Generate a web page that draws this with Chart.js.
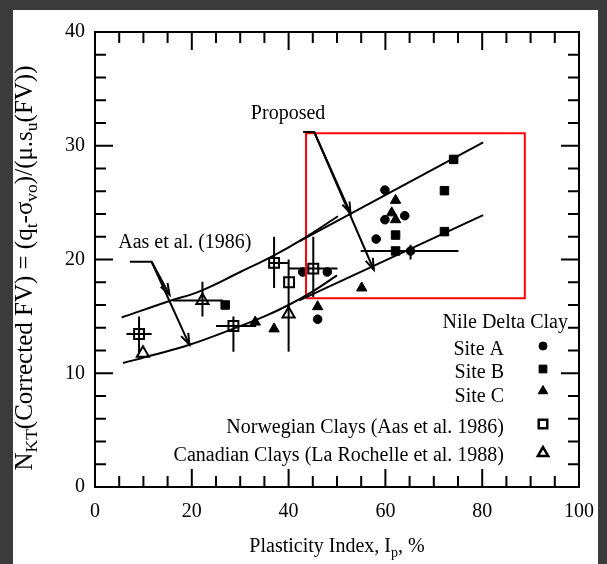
<!DOCTYPE html>
<html><head><meta charset="utf-8">
<script src="https://cdn.jsdelivr.net/npm/chart.js@4.4.1/dist/chart.umd.min.js"></script>
<style>html,body{margin:0;padding:0;background:#3b3b3b;overflow:hidden}canvas{display:block}</style>
</head><body>
<canvas id="c" width="607" height="564"></canvas>
<script>
// ---------- data ----------
const xTicks = [0, 20, 40, 60, 80, 100];
const yTicks = [0, 10, 20, 30, 40];
const siteA = [[59.9,26.1],[59.9,23.5],[64.0,23.85],[58.1,21.8],[65.2,20.75],[42.9,18.9],[48.0,18.9],[46.0,14.75]];
const siteB = [[74.1,28.8],[72.2,26.05],[72.2,22.45],[62.1,22.15],[62.1,20.75],[26.9,16.0]];
const siteC = [[62.1,25.2],[61.3,24.1],[62.1,23.5],[55.1,17.5],[46.0,15.85],[33.1,14.5],[37.0,13.9]];
const norwegian = [[9.1,13.45],[28.6,14.15],[37.0,19.7],[40.1,18.0],[45.1,19.2]];
const canadian = [[9.9,11.75],[22.2,16.4],[40.0,15.2]];
// error bars: [x, y, xLow, xHigh, yLow, yHigh]
const errorBars = [
  [9.1,13.45,6.5,11.7,11.8,15.0],
  [28.6,14.15,25.0,33.3,11.9,15.0],
  [37.0,19.7,36.0,40.1,17.5,22.0],
  [45.1,19.2,40.1,50.1,16.7,22.0],
  [22.2,16.4,16.1,26.4,15.0,18.05],
  [40.0,15.2,40.0,40.0,11.9,20.0],
  [65.2,20.75,54.9,75.1,20.0,21.3]
];
const aasUpper = [[5.5,14.9],[15.4,16.35],[21.6,17.2],[30,18.9],[36.7,20.3],[42.9,21.8],[50.2,23.8]];
const aasLower = [[5.8,10.9],[12,11.6],[19.5,12.5],[28.5,13.9],[35,15.0],[40,16.0],[45,17.2],[50,18.6]];
const proposedUpper = [[42.2,21.6],[80.2,30.3]];
const proposedLower = [[42.2,16.4],[80.2,23.9]];
const proposedBoxX = [43.6, 88.8];
const proposedBoxY = [16.6, 31.1];
const aasLeaderA = [[7.2,19.8],[11.7,19.8],[15.4,16.9]];
const aasLeaderB = [[11.7,19.8],[19.5,12.5]];
const propLeaderA = [[43.0,31.2],[45.3,31.2],[52.8,24.05]];
const propLeaderB = [[45.3,31.2],[57.6,19.1]];
const aasLabel = ['Aas et al. (1986)', 4.8, 21.5];
const propLabel = ['Proposed', 32.2, 32.8];
const legendItems = ['Site A','Site B','Site C','Norwegian Clays (Aas et al. 1986)','Canadian Clays (La Rochelle et al. 1988)'];

// ---------- chart ----------
const FONT = '"Liberation Serif","Times New Roman",serif';
const xy = a => a.map(p => ({x:p[0], y:p[1]}));
const boxPts = [[proposedBoxX[0],proposedBoxY[0]],[proposedBoxX[1],proposedBoxY[0]],[proposedBoxX[1],proposedBoxY[1]],[proposedBoxX[0],proposedBoxY[1]],[proposedBoxX[0],proposedBoxY[0]]];
const lineDs = (pts, tension, color) => ({data: xy(pts), showLine:true, pointRadius:0, borderColor:color||'#000', borderWidth:2, tension:tension, fill:false});

const markerDs = [
  {label:'Site A', data:xy(siteA), pointStyle:'circle', pointRadius:4.3, backgroundColor:'#000', borderColor:'#000', borderWidth:1},
  {label:'Site B', data:xy(siteB), pointStyle:'rect', pointRadius:6, backgroundColor:'#000', borderColor:'#000', borderWidth:1},
  {label:'Site C', data:xy(siteC), pointStyle:'triangle', pointRadius:6, backgroundColor:'#000', borderColor:'#000', borderWidth:1},
  {label:'Norwegian', data:xy(norwegian), pointStyle:'rect', pointRadius:7, backgroundColor:'rgba(0,0,0,0)', borderColor:'#000', borderWidth:2},
  {label:'Canadian', data:xy(canadian), pointStyle:'triangle', pointRadius:7, backgroundColor:'rgba(0,0,0,0)', borderColor:'#000', borderWidth:2}
];
const curveDs = [
  lineDs(aasUpper, 0.4), lineDs(aasLower, 0.4),
  lineDs(proposedUpper, 0), lineDs(proposedLower, 0),
  lineDs(aasLeaderA, 0), lineDs(aasLeaderB, 0),
  lineDs(propLeaderA, 0), lineDs(propLeaderB, 0),
  lineDs(boxPts, 0, '#ff0000')
];

function drawRich(ctx, parts, x, y, size, align) {
  let w = 0;
  parts.forEach(p => { ctx.font = (p[1] ? size*0.7 : size) + 'px ' + FONT; w += ctx.measureText(p[0]).width; });
  let cx = align === 'center' ? x - w/2 : x;
  parts.forEach(p => {
    ctx.font = (p[1] ? size*0.7 : size) + 'px ' + FONT;
    ctx.fillText(p[0], cx, y + (p[1] ? size*0.3 : 0));
    cx += ctx.measureText(p[0]).width;
  });
}
function arrowHead(ctx, x1, y1, x2, y2) {
  const a = Math.atan2(y2-y1, x2-x1), L = 12, s = 0.33;
  ctx.beginPath();
  ctx.moveTo(x2 - L*Math.cos(a - s), y2 - L*Math.sin(a - s));
  ctx.lineTo(x2, y2);
  ctx.lineTo(x2 - L*Math.cos(a + s), y2 - L*Math.sin(a + s));
  ctx.stroke();
}

const deco = {
  id:'deco',
  beforeDraw(chart) {
    const c = chart.ctx; c.save();
    c.fillStyle = '#3b3b3b'; c.fillRect(0,0,chart.width,chart.height);
    c.fillStyle = '#fff'; c.fillRect(13,10,585,554);
    c.restore();
  },
  beforeDatasetsDraw(chart) {
    const c = chart.ctx, X = chart.scales.x, Y = chart.scales.y;
    c.save(); c.strokeStyle = '#000'; c.lineWidth = 2;
    errorBars.forEach(e => {
      c.beginPath();
      if (e[3] > e[2]) { c.moveTo(X.getPixelForValue(e[2]), Y.getPixelForValue(e[1])); c.lineTo(X.getPixelForValue(e[3]), Y.getPixelForValue(e[1])); }
      if (e[5] > e[4]) { c.moveTo(X.getPixelForValue(e[0]), Y.getPixelForValue(e[4])); c.lineTo(X.getPixelForValue(e[0]), Y.getPixelForValue(e[5])); }
      c.stroke();
    });
    c.restore();
  },
  afterDatasetsDraw(chart) {
    const c = chart.ctx, X = chart.scales.x, Y = chart.scales.y, A = chart.chartArea;
    const P = p => [X.getPixelForValue(p[0]), Y.getPixelForValue(p[1])];
    c.save();
    c.strokeStyle = '#000'; c.lineWidth = 2; c.lineCap = 'butt';
    [aasLeaderA, aasLeaderB, propLeaderA, propLeaderB].forEach(l => {
      const a = P(l[l.length-2]), b = P(l[l.length-1]);
      arrowHead(c, a[0], a[1], b[0], b[1]);
    });
    c.strokeRect(A.left, A.top, A.right - A.left, A.bottom - A.top);
    c.beginPath();
    for (let v = X.min; v <= X.max; v += 5) {
      const p = X.getPixelForValue(v), L = (v % 20 === 0) ? 18 : 11;
      c.moveTo(p, A.bottom); c.lineTo(p, A.bottom - L);
      c.moveTo(p, A.top); c.lineTo(p, A.top + L);
    }
    for (let v = Y.min; v <= Y.max; v += 2) {
      const p = Y.getPixelForValue(v), L = (v % 10 === 0) ? 18 : 11;
      c.moveTo(A.left, p); c.lineTo(A.left + L, p);
      c.moveTo(A.right, p); c.lineTo(A.right - L, p);
    }
    c.stroke();
    c.fillStyle = '#000'; c.textBaseline = 'middle'; c.font = '20px ' + FONT;
    c.textAlign = 'left';
    let q = P([aasLabel[1], aasLabel[2]]); c.fillText(aasLabel[0], q[0], q[1]);
    q = P([propLabel[1], propLabel[2]]); c.fillText(propLabel[0], q[0], q[1]);
    c.textAlign = 'right';
    c.fillText('Nile Delta Clay', 568, 323);
    const ly = [350, 373, 396.5, 428, 456], my = [346, 369, 391, 424, 453];
    legendItems.forEach((t, i) => {
      c.fillStyle = '#000';
      c.fillText(t, 504, ly[i]);
      const d = markerDs[i];
      c.fillStyle = d.backgroundColor; c.strokeStyle = d.borderColor; c.lineWidth = i < 3 ? 1 : 2.5;
      Chart.helpers.drawPoint(c, {pointStyle:d.pointStyle, radius: i === 0 ? 4 : (i < 3 ? 5.5 : 6), borderWidth:c.lineWidth, rotation:0}, 543, my[i]);
    });
    c.fillStyle = '#000'; c.textAlign = 'left';
    drawRich(c, [['Plasticity Index, I',0],['p',1],[', %',0]], (A.left + A.right)/2, 547, 20, 'center');
    c.translate(25, 268); c.rotate(-Math.PI/2);
    drawRich(c, [['N',0],['KT',1],['(Corrected FV) = (q',0],['t',1],['-\u03c3',0],['vo',1],[')/(\u03bc.s',0],['u',1],['(FV))',0]], 0, 0, 25, 'center');
    c.restore();
  }
};

new Chart(document.getElementById('c'), {
  type:'scatter',
  data:{datasets:[...curveDs, ...markerDs]},
  options:{
    responsive:false, animation:false, devicePixelRatio:1, events:[],
    layout:{padding:{top:32, right:26, left:0, bottom:0}},
    plugins:{legend:{display:false}, tooltip:{enabled:false}},
    scales:{
      x:{type:'linear', min:0, max:100,
        afterBuildTicks(s){ s.ticks = xTicks.map(v => ({value:v})); },
        afterFit(s){ s.height = 77; },
        grid:{display:false, drawTicks:false}, border:{display:false},
        ticks:{padding:13, color:'#000', font:{family:FONT, size:20}}},
      y:{type:'linear', min:0, max:40,
        afterBuildTicks(s){ s.ticks = yTicks.map(v => ({value:v})); },
        afterFit(s){ s.width = 95; },
        grid:{display:false, drawTicks:false}, border:{display:false},
        ticks:{padding:10, color:'#000', font:{family:FONT, size:20}}}
    }
  },
  plugins:[deco]
});
</script>
</body></html>
